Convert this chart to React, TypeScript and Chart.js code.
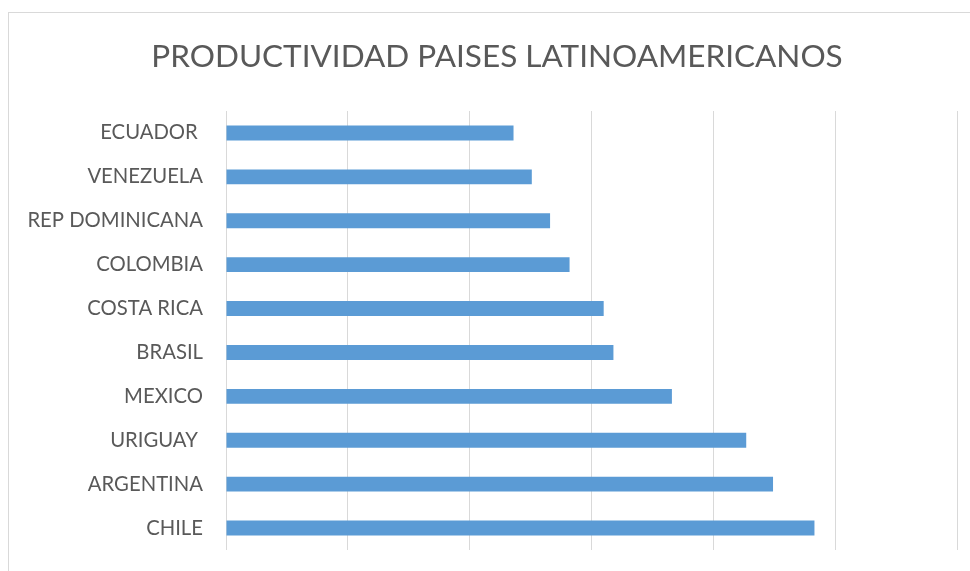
import React, { useEffect, useRef } from "react";
import { Chart, registerables } from "chart.js";

Chart.register(...registerables);

const categories = [
  "ECUADOR ",
  "VENEZUELA",
  "REP DOMINICANA",
  "COLOMBIA",
  "COSTA RICA",
  "BRASIL",
  "MEXICO",
  "URIGUAY ",
  "ARGENTINA",
  "CHILE",
];
const values = [23.6, 25.1, 26.6, 28.2, 31.0, 31.8, 36.6, 42.7, 44.9, 48.3];
const titleText = "PRODUCTIVIDAD PAISES LATINOAMERICANOS";
const axisMin = 0;
const axisMax = 60;
const axisStep = 10;

const titlePlugin = {
  id: "centeredTitle",
  afterDraw(chart: any) {
    const ctx = chart.ctx;
    ctx.save();
    ctx.font = "normal 31.5px Lato";
    ctx.fillStyle = "#595959";
    ctx.textAlign = "center";
    ctx.textBaseline = "middle";
    ctx.fillText(titleText, 497, 57);
    ctx.restore();
  },
};

export default function App() {
  const ref = useRef<HTMLCanvasElement | null>(null);

  useEffect(() => {
    if (!ref.current) return;
    const chart = new Chart(ref.current, {
      type: "bar",
      data: {
        labels: categories,
        datasets: [
          {
            data: values,
            backgroundColor: "#5B9BD5",
            borderColor: "#5B9BD5",
            borderWidth: 0,
            barPercentage: 0.34,
            categoryPercentage: 1,
          },
        ],
      },
      plugins: [titlePlugin],
      options: {
        indexAxis: "y",
        animation: false,
        responsive: false,
        maintainAspectRatio: false,
        layout: { padding: { left: 0, right: 13, top: 111, bottom: 21 } },
        plugins: {
          legend: { display: false },
          tooltip: { enabled: false },
          title: { display: false },
        },
        scales: {
          x: {
            min: axisMin,
            max: axisMax,
            ticks: { display: false, stepSize: axisStep },
            grid: { color: "#d9d9d9", lineWidth: 1, drawTicks: false },
            border: { display: false },
            afterFit: (scale: any) => {
              scale.height = 0;
              scale.paddingLeft = 0;
              scale.paddingRight = 0;
            },
          },
          y: {
            grid: { display: false, drawTicks: false },
            border: { display: false },
            ticks: {
              color: "#595959",
              font: { family: "Lato", size: 20.3 },
              padding: 23,
            },
            afterFit: (scale: any) => {
              scale.width = 226;
              scale.paddingTop = 0;
              scale.paddingBottom = 0;
            },
          },
        },
      },
    });
    return () => chart.destroy();
  }, []);

  return (
    <div
      style={{
        position: "fixed",
        left: 0,
        top: 0,
        width: 970,
        height: 571,
        overflow: "hidden",
        background: "#fff",
      }}
    >
      <div
        style={{
          position: "absolute",
          left: 8,
          top: 12,
          width: 1000,
          height: 1000,
          border: "1px solid #d9d9d9",
        }}
      />
      <canvas
        ref={ref}
        width={970}
        height={571}
        style={{ position: "absolute", left: 0, top: 0, width: 970, height: 571 }}
      />
    </div>
  );
}
